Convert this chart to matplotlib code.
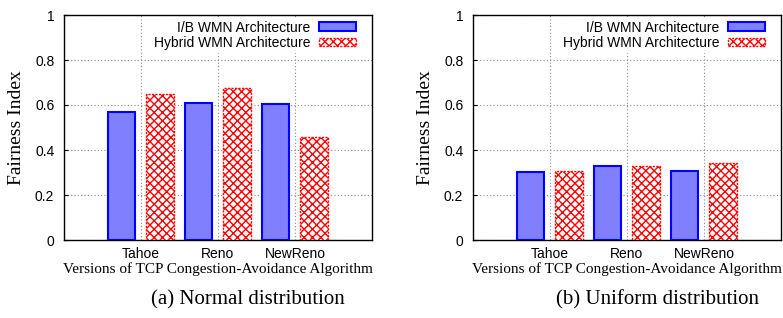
import numpy as np
import matplotlib as mpl
mpl.use("Agg")
import matplotlib.pyplot as plt
from matplotlib.patches import Patch

CATEGORIES = ["Tahoe", "Reno", "NewReno"]
NORMAL_IB = [0.569, 0.607, 0.603]
NORMAL_HYBRID = [0.649, 0.674, 0.459]
UNIFORM_IB = [0.304, 0.330, 0.307]
UNIFORM_HYBRID = [0.308, 0.327, 0.344]
SERIES_LABELS = ["I/B WMN Architecture", "Hybrid WMN Architecture"]
CAPTIONS = ["(a) Normal distribution", "(b) Uniform distribution"]

SANS = ["Liberation Sans", "DejaVu Sans"]
SERIF = ["Liberation Serif", "DejaVu Serif"]

BLUE_FILL = "#8080ff"
BLUE_EDGE = "#0000ff"
RED = "#ff0000"
GRID = "#8a8a8a"

mpl.rcParams.update({
    "font.family": SANS,
    "font.size": 10,
    "hatch.linewidth": 1.0,
    "axes.linewidth": 1.0,
})

fig = plt.figure(figsize=(7.83, 3.18), dpi=100)
W, H = 783, 318


def add_panel(left_px, right_px, ib, hybrid, caption, cap_x):
    ax = fig.add_axes([left_px / W, 1 - 240 / H, (right_px - left_px) / W, 225 / H])
    x = np.arange(1, len(CATEGORIES) + 1)
    width = 0.36
    ax.bar(x - 0.255, ib, width, color=BLUE_FILL, edgecolor=BLUE_EDGE,
           linewidth=1.5, zorder=3)
    ax.bar(x + 0.245, hybrid, width, color="white", edgecolor=RED,
           hatch="xxxx", linewidth=1.0, linestyle=(0, (1.5, 1)), zorder=3)

    ax.set_xlim(0, 4)
    ax.set_ylim(0, 1)
    ax.set_xticks(x)
    ax.set_xticklabels(CATEGORIES)
    ax.set_yticks(np.arange(0, 1.01, 0.2))
    ax.set_yticklabels(["0", "0.2", "0.4", "0.6", "0.8", "1"])
    ax.tick_params(axis="both", direction="in", length=3, width=0.8,
                   labelsize=10, pad=7)
    ax.tick_params(axis="x", length=0, pad=5)
    ax.grid(True, color=GRID, linestyle=(0, (1, 2)), linewidth=0.8, zorder=0)
    ax.set_axisbelow(True)

    ax.set_ylabel("Fairness Index", family=SERIF, fontsize=14, labelpad=7)
    ax.set_xlabel("Versions of TCP Congestion-Avoidance Algorithm",
                  family=SERIF, fontsize=11, labelpad=1)

    handles = [
        Patch(facecolor=BLUE_FILL, edgecolor=BLUE_EDGE, linewidth=1.5),
        Patch(facecolor="white", edgecolor=RED, hatch="xxxx", linewidth=1.0,
              linestyle=(0, (1.5, 1))),
    ]
    leg = ax.legend(handles, SERIES_LABELS, loc="upper right",
                    bbox_to_anchor=(1 - 10 / (right_px - left_px), 1.0),
                    markerfirst=False,
                    frameon=True, fancybox=False, framealpha=1,
                    edgecolor="white", facecolor="white",
                    handlelength=2.7, handleheight=0.55, handletextpad=0.6,
                    labelspacing=0.08, borderpad=0.2, borderaxespad=0.2,
                    fontsize=10)
    for t in leg.get_texts():
        t.set_ha("right")
    leg._legend_box.align = "right"
    leg.set_zorder(5)

    fig.text(cap_x / W, 1 - 300 / H, caption, family=SERIF, fontsize=15,
             ha="center", va="center")
    return ax


add_panel(64, 372, NORMAL_IB, NORMAL_HYBRID, CAPTIONS[0], 248)
add_panel(473, 781, UNIFORM_IB, UNIFORM_HYBRID, CAPTIONS[1], 657)

fig.savefig("out.png", dpi=100)
